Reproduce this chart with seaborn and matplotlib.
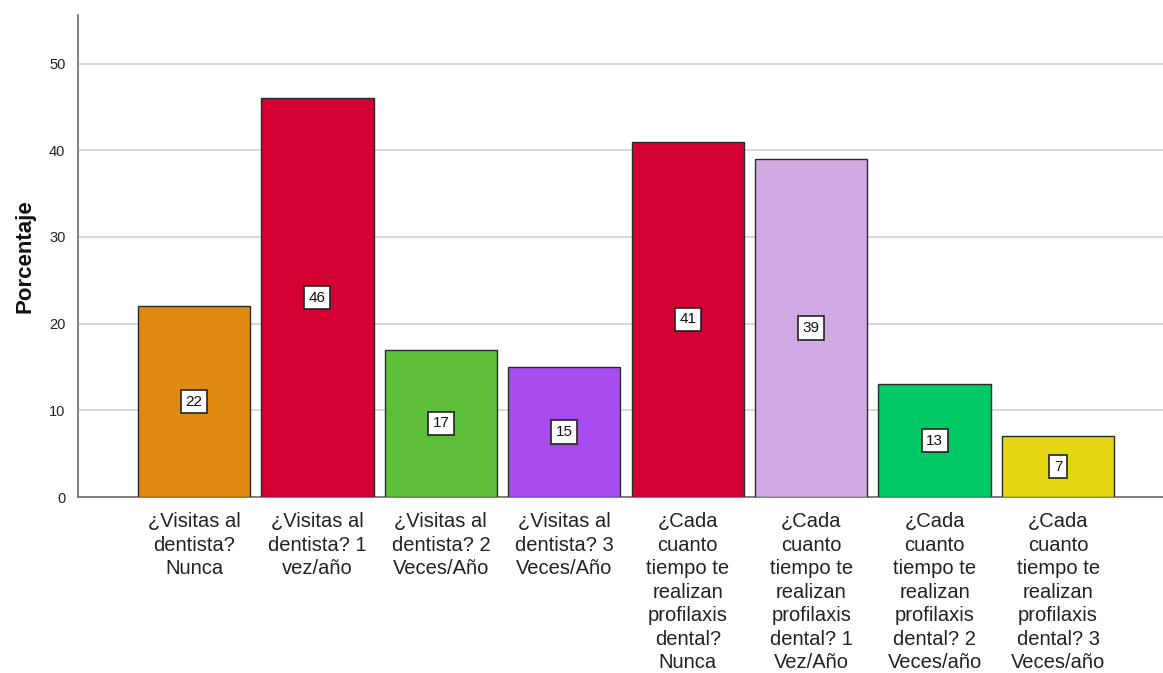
import matplotlib
matplotlib.use("Agg")
import matplotlib.pyplot as plt
import seaborn as sns
import pandas as pd

categories = [
    "¿Visitas al\ndentista?\nNunca",
    "¿Visitas al\ndentista? 1\nvez/año",
    "¿Visitas al\ndentista? 2\nVeces/Año",
    "¿Visitas al\ndentista? 3\nVeces/Año",
    "¿Cada\ncuanto\ntiempo te\nrealizan\nprofilaxis\ndental?\nNunca",
    "¿Cada\ncuanto\ntiempo te\nrealizan\nprofilaxis\ndental? 1\nVez/Año",
    "¿Cada\ncuanto\ntiempo te\nrealizan\nprofilaxis\ndental? 2\nVeces/año",
    "¿Cada\ncuanto\ntiempo te\nrealizan\nprofilaxis\ndental? 3\nVeces/año",
]
values = [22, 46, 17, 15, 41, 39, 13, 7]
colors = ["#E08A10", "#D50032", "#5DBE3A", "#A84CF0", "#D50032", "#D0A9E3", "#00C965", "#E3D510"]
yticks = [0, 10, 20, 30, 40, 50]

sns.set_theme(style="white")
plt.rcParams["font.family"] = ["Liberation Sans", "DejaVu Sans"]

df = pd.DataFrame({"cat": categories, "val": values})

fig = plt.figure(figsize=(11.63, 6.73), dpi=100)
ax = fig.add_axes([0.067, 0.2615, 0.933, 0.7162])

sns.barplot(data=df, x="cat", y="val", hue="cat", palette=colors, legend=False,
            saturation=1, width=0.91, edgecolor="#2A2A2A", linewidth=1.0, ax=ax, zorder=3)

ax.set_ylim(0, 55.6)
ax.set_xlim(-0.94, 7.85)
ax.set_yticks(yticks)
ax.set_yticklabels([str(t) for t in yticks], fontsize=10.5, color="#222222")
ax.yaxis.grid(True, color="#D4D4D4", linewidth=1.3, zorder=0)
ax.set_axisbelow(True)
ax.tick_params(axis="y", length=0, pad=9)
ax.tick_params(axis="x", length=0, pad=11)
for lab in ax.get_xticklabels():
    lab.set_fontsize(14.5)
    lab.set_linespacing(1.3)
    lab.set_color("#222222")

ax.set_xlabel("")
ax.set_ylabel("Porcentaje", fontsize=16, fontweight="bold", color="#111111", labelpad=10)

for s in ["top", "right"]:
    ax.spines[s].set_visible(False)
for s in ["left", "bottom"]:
    ax.spines[s].set_color("#777777")
    ax.spines[s].set_linewidth(1.3)

for i, v in enumerate(values):
    ax.text(i, v / 2, str(v), ha="center", va="center", fontsize=11, color="#111111", zorder=5,
            bbox=dict(boxstyle="square,pad=0.3", facecolor="white", edgecolor="#222222", linewidth=1.2))

fig.savefig("out.png", dpi=100)
